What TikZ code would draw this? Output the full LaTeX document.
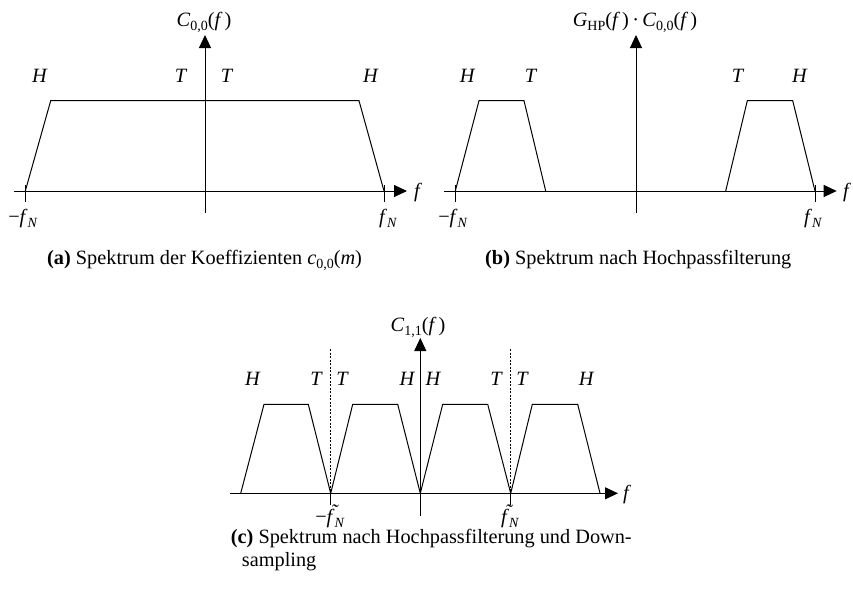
\documentclass[tikz,border=0pt]{standalone}
\usepackage{fontspec}
\setmainfont{Liberation Serif}
\usetikzlibrary{arrows.meta}
\newcommand\mi[1]{\textit{#1}}
\newcommand\sbs[1]{\raisebox{-0.2em}{\fontsize{14}{15}\selectfont #1}}
\newcommand\ftil{\textit{\rlap{\kern0.2em\raisebox{0.2em}{˜}}f}}
\tikzset{
  lbl/.style={font=\fontsize{20.3}{24}\selectfont, inner sep=0pt, anchor=base},
  captext/.style={font=\fontsize{20.3}{24}\selectfont, inner sep=0pt, anchor=base west},
  axisline/.style={line width=1pt, -{Triangle[length=13pt,width=12pt]}},
  curve/.style={line width=1pt, line join=miter},
  tickmark/.style={line width=1pt},
  guide/.style={line width=0.6pt, dash pattern=on 2pt off 1.5pt}
}
\begin{document}
\begin{tikzpicture}[x=1pt,y=-1pt]
\useasboundingbox (0,0) rectangle (853,597);
% ---------------- panel (a) ----------------
\coordinate (ax0) at (14,191);   \coordinate (ax1) at (407,191);
\coordinate (ay0) at (205,213);  \coordinate (ay1) at (205,35);
\draw[axisline] (ax0) -- (ax1);
\draw[axisline] (ay0) -- (ay1);
\draw[tickmark] (25.3,185) -- (25.3,202);
\draw[tickmark] (384,185) -- (384,202);
\draw[curve] (25.3,191) -- (50.7,100.7) -- (359,100.7) -- (384,191);
\node[lbl] (atitle) at (204,26.5) {\mi{C}\sbs{0,0}(\mi{f}\kern0.1em)};
\node[lbl] (aH1) at (40,82) {\mi{H}};
\node[lbl] (aT1) at (181,82) {\mi{T}};
\node[lbl] (aT2) at (227,82) {\mi{T}};
\node[lbl] (aH2) at (371,82) {\mi{H}};
\node[lbl] (af) at (418,197) {\mi{f}};
\node[lbl] (afn1) at (23,223) {−\mi{f}\sbs{\mi{N}}};
\node[lbl] (afn2) at (388,223) {\mi{f}\sbs{\mi{N}}};
\node[captext] (acap) at (47,264) {\textbf{(a)} Spektrum der Koeffizienten \mi{c}\sbs{0,0}(\mi{m})};
% ---------------- panel (b) ----------------
\coordinate (bx0) at (444,191);  \coordinate (bx1) at (836.7,191);
\coordinate (by0) at (636,213);  \coordinate (by1) at (636,35);
\draw[axisline] (bx0) -- (bx1);
\draw[axisline] (by0) -- (by1);
\draw[tickmark] (455.3,185) -- (455.3,202);
\draw[tickmark] (815,185) -- (815,202);
\draw[curve] (455.3,191) -- (479,100.7) -- (524,100.7) -- (545.7,191);
\draw[curve] (725.7,191) -- (747.3,100.7) -- (792.7,100.7) -- (815,191);
\node[lbl] (btitle) at (635,26.5) {\mi{G}\sbs{HP}(\mi{f}\kern0.1em)\,·\,\mi{C}\sbs{0,0}(\mi{f}\kern0.1em)};
\node[lbl] (bH1) at (467.7,82) {\mi{H}};
\node[lbl] (bT1) at (531,82) {\mi{T}};
\node[lbl] (bT2) at (738,82) {\mi{T}};
\node[lbl] (bH2) at (800,82) {\mi{H}};
\node[lbl] (bf) at (847,197) {\mi{f}};
\node[lbl] (bfn1) at (453,223) {−\mi{f}\sbs{\mi{N}}};
\node[lbl] (bfn2) at (813,223) {\mi{f}\sbs{\mi{N}}};
\node[captext] (bcap) at (485,264) {\textbf{(b)} Spektrum nach Hochpassfilterung};
% ---------------- panel (c) ----------------
\coordinate (cx0) at (230,493.3); \coordinate (cx1) at (618,493.3);
\coordinate (cy0) at (420.3,516); \coordinate (cy1) at (420.3,338);
\draw[axisline] (cx0) -- (cx1);
\draw[axisline] (cy0) -- (cy1);
\draw[guide] (330.7,349) -- (330.7,493.3);
\draw[guide] (510.7,349) -- (510.7,493.3);
\draw[tickmark] (330.7,493.3) -- (330.7,505);
\draw[tickmark] (510.7,493.3) -- (510.7,505);
\draw[curve] (240.7,493.3) -- (264,404.3) -- (308.3,404.3) -- (330.7,493.3)
  -- (352.7,404.3) -- (397.7,404.3) -- (420.3,493.3)
  -- (442.7,404.3) -- (487.7,404.3) -- (510.7,493.3)
  -- (532.3,404.3) -- (577.7,404.3) -- (600,493.3);
\node[lbl] (ctitle) at (418,331) {\mi{C}\sbs{1,1}(\mi{f}\kern0.1em)};
\node[lbl] (cH1) at (253,385) {\mi{H}};
\node[lbl] (cT1) at (316.7,385) {\mi{T}};
\node[lbl] (cT2) at (342.7,385) {\mi{T}};
\node[lbl] (cH2) at (407.3,385) {\mi{H}};
\node[lbl] (cH3) at (433.3,385) {\mi{H}};
\node[lbl] (cT3) at (496.7,385) {\mi{T}};
\node[lbl] (cT4) at (522.7,385) {\mi{T}};
\node[lbl] (cH4) at (586.7,385) {\mi{H}};
\node[lbl] (cf) at (627,499) {\mi{f}};
\node[lbl] (cfn1) at (330,523) {−\ftil\sbs{\mi{N}}};
\node[lbl] (cfn2) at (510,523) {\ftil\sbs{\mi{N}}};
\node[captext] (ccap1) at (230.7,543) {\textbf{(c)} Spektrum nach Hochpassfilterung und Down-};
\node[captext] (ccap2) at (241.7,566) {sampling};
\end{tikzpicture}
\end{document}
